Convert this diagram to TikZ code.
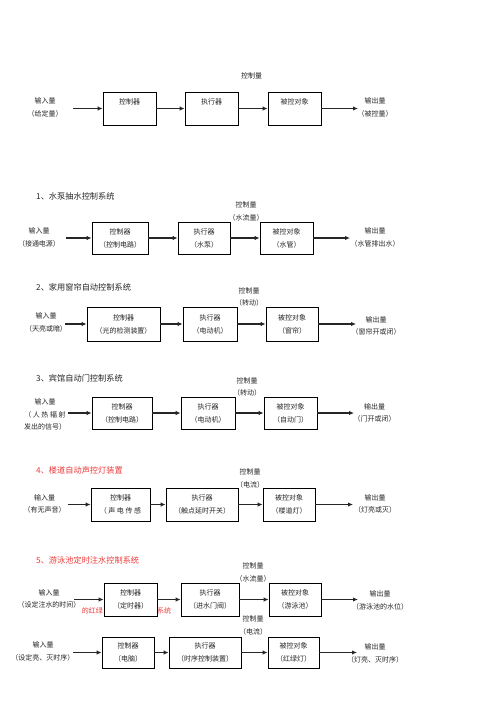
\documentclass[tikz,border=0pt]{standalone}
\usepackage{fontspec}
\setmainfont{Noto Sans CJK SC}
\usetikzlibrary{arrows.meta}
\definecolor{titlered}{RGB}{238,58,58}

\begin{document}
\begin{tikzpicture}[
    x=1pt, y=-1pt,
    every node/.style={font=\fontsize{7}{12.5}\selectfont, inner sep=0pt, text=black!85},
    box/.style={draw=black, line width=0.8pt, fill=white, align=center, minimum width=53pt, minimum height=33pt, font=\fontsize{7}{13}\selectfont},
    lbl/.style={align=center},
    title/.style={anchor=west, font=\fontsize{8.2}{10}\selectfont},
    flow/.style={-{Latex[length=5pt,width=4.5pt]}, line width=1.2pt, black!85}
]
\useasboundingbox (0,0) rectangle (496,702);

% generic loop
\node (q0) at (251.5,76) {控制量};
\node[lbl] (in0) at (45,107.5) {输入量\\（给定量）};
\node[box] (ctl0) at (129.5,108.5) {控制器\\\phantom{控}};
\node[box] (act0) at (211.5,108.5) {执行器\\\phantom{控}};
\node[box] (obj0) at (294.5,108.5) {被控对象\\\phantom{控}};
\node[lbl] (out0) at (375,107.5) {输出量\\（被控量）};
\coordinate (s0) at (73,108.5);
\coordinate (e0) at (358,108.5);
\draw[flow] (s0) -- (ctl0);
\draw[flow] (ctl0) -- (act0);
\draw[flow] (act0) -- (obj0);
\draw[flow] (obj0) -- (e0);

% 1: pump
\node[title] (t1) at (36,196) {1、水泵抽水控制系统};
\node[lbl] (q1) at (246,211.5) {控制量\\（水流量）};
\node[lbl] (in1) at (39,237.5) {输入量\\（接通电源）};
\node[box, minimum width=56pt, minimum height=32pt] (ctl1) at (120,238) {控制器\\（控制电路）};
\node[box, minimum width=52pt, minimum height=32pt] (act1) at (204,238) {执行器\\（水泵）};
\node[box, minimum height=32pt] (obj1) at (286.5,238) {被控对象\\（水管）};
\node[lbl] (out1) at (375,237.5) {输出量\\（水管排出水）};
\coordinate (s1) at (66,238);
\coordinate (e1) at (350,238);
\draw[flow] (s1) -- (ctl1);
\draw[flow] (ctl1) -- (act1);
\draw[flow] (act1) -- (obj1);
\draw[flow] (obj1) -- (e1);

% 2: curtain
\node[title] (t2) at (36,287) {2、家用窗帘自动控制系统};
\node[lbl] (q2) at (249,297) {控制量\\（转动）};
\node[lbl] (in2) at (46,322.5) {输入量\\（天亮或暗）};
\node[box, minimum width=73pt, minimum height=34pt] (ctl2) at (123.5,324) {控制器\\（光的检测装置）};
\node[box, minimum width=54pt, minimum height=34pt] (act2) at (210,324) {执行器\\（电动机）};
\node[box, minimum width=52pt, minimum height=34pt] (obj2) at (292,324) {被控对象\\（窗帘）};
\node[lbl] (out2) at (376,326) {输出量\\（窗帘开或闭）};
\coordinate (s2) at (65,324);
\coordinate (e2) at (356,324);
\draw[flow] (s2) -- (ctl2);
\draw[flow] (ctl2) -- (act2);
\draw[flow] (act2) -- (obj2);
\draw[flow] (obj2) -- (e2);

% 3: hotel door
\node[title] (t3) at (36,378) {3、宾馆自动门控制系统};
\node[lbl] (q3) at (247,387) {控制量\\（转动）};
\node[lbl] (in3) at (45,414.5) {输入量\\（\ 人\ 热\ 辐\ 射\\发出的信号）};
\node[box, minimum width=60pt, minimum height=32pt] (ctl3) at (122,413) {控制器\\（控制电路）};
\node[box, minimum width=54pt, minimum height=32pt] (act3) at (208,413) {执行器\\（电动机）};
\node[box, minimum height=32pt] (obj3) at (290.5,413) {被控对象\\（自动门）};
\node[lbl] (out3) at (374.5,413) {输出量\\（门开或闭）};
\coordinate (s3) at (68,413);
\coordinate (e3) at (354,413);
\draw[flow] (s3) -- (ctl3);
\draw[flow] (ctl3) -- (act3);
\draw[flow] (act3) -- (obj3);
\draw[flow] (obj3) -- (e3);

% 4: stair light
\node[title, text=titlered] (t4) at (36,470) {4、楼道自动声控灯装置};
\node[lbl] (q4) at (250,478.5) {控制量\\（电流）};
\node[lbl] (in4) at (44.5,504) {输入量\\（有无声音）};
\node[box, minimum width=59pt] (ctl4) at (120.5,504.5) {控制器\\（\ 声\ 电\ 传\ 感};
\node[box, minimum width=72pt] (act4) at (202,504.5) {执行器\\（触点延时开关）};
\node[box, minimum width=52pt] (obj4) at (289,504.5) {被控对象\\（楼道灯）};
\node[lbl] (out4) at (375,504) {输出量\\（灯亮或灭）};
\coordinate (s4) at (68,504.5);
\coordinate (e4) at (353,504.5);
\draw[flow] (s4) -- (ctl4);
\draw[flow] (ctl4) -- (act4);
\draw[flow] (act4) -- (obj4);
\draw[flow] (obj4) -- (e4);

% 5: pool
\node[title, text=titlered] (t5) at (36,560) {5、游泳池定时注水控制系统};
\node[anchor=east, text=titlered] (t6a) at (103,611) {的红绿};
\node[anchor=west, text=titlered] (t6b) at (157,611) {系统};
\node[lbl] (q5) at (253,572.5) {控制量\\（水流量）};
\node[lbl] (in5) at (49,599) {输入量\\（设定注水的时间）};
\node[box] (ctl5) at (130.5,599.5) {控制器\\（定时器）};
\node[box, minimum width=58pt] (act5) at (210,599.5) {执行器\\（进水门阀）};
\node[box, minimum width=52pt] (obj5) at (295,599.5) {被控对象\\（游泳池）};
\node[lbl] (out5) at (380,600.5) {输出量\\（游泳池的水位）};
\coordinate (s5) at (74,599.5);
\coordinate (e5) at (358,599.5);
\draw[flow] (s5) -- (ctl5);
\draw[flow] (ctl5) -- (act5);
\draw[flow] (act5) -- (obj5);
\draw[flow] (obj5) -- (e5);

% 6: traffic light
\node[lbl] (q6) at (253,625.5) {控制量\\（电流）};
\node[lbl] (in6) at (43,651.5) {输入量\\（设定亮、灭时序）};
\node[box, minimum width=52pt, minimum height=31pt] (ctl6) at (128,652.5) {控制器\\（电脑）};
\node[box, minimum width=72pt, minimum height=31pt] (act6) at (205,652.5) {执行器\\（时序控制装置）};
\node[box, minimum width=51pt, minimum height=31pt] (obj6) at (293.5,652.5) {被控对象\\（红绿灯）};
\node[lbl] (out6) at (375,653.5) {输出量\\（灯亮、灭时序）};
\coordinate (s6) at (73,652.5);
\coordinate (e6) at (357,652.5);
\draw[flow] (s6) -- (ctl6);
\draw[flow] (ctl6) -- (act6);
\draw[flow] (act6) -- (obj6);
\draw[flow] (obj6) -- (e6);
\end{tikzpicture}
\end{document}
